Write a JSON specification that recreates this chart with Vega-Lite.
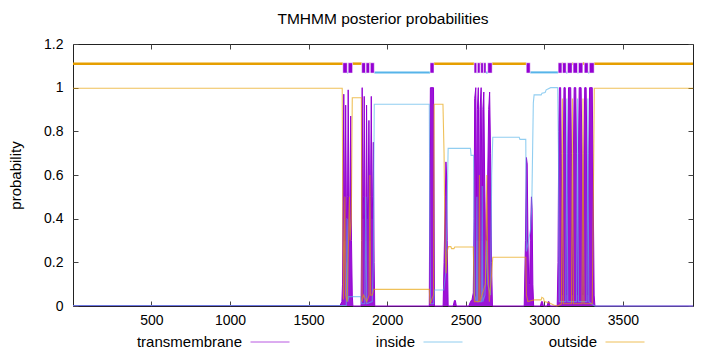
{
"$schema": "https://vega.github.io/schema/vega-lite/v6.json",
"width": 620, "height": 262,
"autosize": {"type": "none"},
"padding": {"left": 73, "top": 44, "right": 27, "bottom": 46},
"background": "white",
"title": {"text": "TMHMM posterior probabilities", "font": "Liberation Sans", "fontSize": 15.5, "fontWeight": "normal", "color": "#000", "offset": 10, "anchor": "middle"},
"config": {
  "view": {"stroke": "#222", "strokeWidth": 1},
  "axis": {"grid": false, "domain": false, "labelFont": "Liberation Sans", "labelFontSize": 14, "labelColor": "#000", "tickColor": "#444", "tickSize": -5, "titleFont": "Liberation Sans", "titleFontSize": 15, "titleFontWeight": "normal", "titleColor": "#000"}
},
"resolve": {"axis": {"x": "independent", "y": "independent"}},
"datasets": {
"tm": [{"x":1,"y":0.002},{"x":1700,"y":0.002},{"x":1712,"y":0.02},{"x":1716,"y":0.1},{"x":1720,"y":0.6},{"x":1724,"y":0.97},{"x":1728,"y":0.5},{"x":1731,"y":0.3},{"x":1736,"y":0.92},{"x":1741,"y":0.4},{"x":1745,"y":0.2},{"x":1748,"y":0.5},{"x":1752,"y":0.99},{"x":1756,"y":0.6},{"x":1760,"y":0.3},{"x":1764,"y":0.5},{"x":1768,"y":0.87},{"x":1773,"y":0.3},{"x":1778,"y":0.05},{"x":1782,"y":0},{"x":1834,"y":0},{"x":1837,"y":0.3},{"x":1841,"y":1},{"x":1846,"y":0.4},{"x":1850,"y":0.5},{"x":1854,"y":0.96},{"x":1859,"y":0.4},{"x":1864,"y":0.3},{"x":1869,"y":0.92},{"x":1874,"y":0.4},{"x":1879,"y":0.5},{"x":1884,"y":0.85},{"x":1890,"y":0.3},{"x":1894,"y":0.5},{"x":1899,"y":0.96},{"x":1904,"y":0.4},{"x":1908,"y":0.5},{"x":1912,"y":0.75},{"x":1917,"y":0.2},{"x":1921,"y":0},{"x":2268,"y":0},{"x":2272,"y":0.7},{"x":2275,"y":1},{"x":2295,"y":1},{"x":2298,"y":0.6},{"x":2301,"y":0},{"x":2356,"y":0},{"x":2362,"y":0.2},{"x":2370,"y":0.5},{"x":2374,"y":0.66},{"x":2378,"y":0.6},{"x":2382,"y":0.3},{"x":2388,"y":0},{"x":2420,"y":0},{"x":2428,"y":0.025},{"x":2434,"y":0.025},{"x":2440,"y":0},{"x":2520,"y":0},{"x":2530,"y":0.02},{"x":2540,"y":0.03},{"x":2548,"y":0.06},{"x":2553,"y":0.4},{"x":2557,"y":0.95},{"x":2564,"y":1},{"x":2568,"y":0.6},{"x":2571,"y":0.3},{"x":2574,"y":0.9},{"x":2580,"y":1},{"x":2584,"y":0.6},{"x":2587,"y":0.3},{"x":2591,"y":0.9},{"x":2598,"y":1},{"x":2602,"y":0.6},{"x":2605,"y":0.3},{"x":2609,"y":0.9},{"x":2615,"y":0.98},{"x":2620,"y":0.6},{"x":2626,"y":0.3},{"x":2633,"y":0.3},{"x":2640,"y":0.6},{"x":2646,"y":0.9},{"x":2652,"y":0.98},{"x":2658,"y":0.7},{"x":2664,"y":0.2},{"x":2670,"y":0},{"x":2872,"y":0},{"x":2880,"y":0.3},{"x":2886,"y":0.68},{"x":2891,"y":0.65},{"x":2896,"y":0.3},{"x":2901,"y":0.1},{"x":2906,"y":0.1},{"x":2911,"y":0.3},{"x":2918,"y":0.5},{"x":2922,"y":0.45},{"x":2927,"y":0.1},{"x":2932,"y":0},{"x":2975,"y":0},{"x":2982,"y":0.02},{"x":2988,"y":0.02},{"x":2994,"y":0},{"x":3018,"y":0},{"x":3025,"y":0.02},{"x":3030,"y":0.02},{"x":3036,"y":0},{"x":3082,"y":0},{"x":3087,"y":0.2},{"x":3092,"y":0.8},{"x":3096,"y":1},{"x":3104,"y":1},{"x":3108,"y":0.7},{"x":3115,"y":0.05},{"x":3121,"y":0.7},{"x":3125,"y":1},{"x":3133,"y":1},{"x":3137,"y":0.7},{"x":3143,"y":0.05},{"x":3149,"y":0.7},{"x":3154,"y":1},{"x":3168,"y":1},{"x":3173,"y":0.7},{"x":3179,"y":0.05},{"x":3185,"y":0.7},{"x":3190,"y":1},{"x":3200,"y":1},{"x":3205,"y":0.7},{"x":3211,"y":0.05},{"x":3217,"y":0.7},{"x":3222,"y":1},{"x":3234,"y":1},{"x":3240,"y":0.7},{"x":3246,"y":0.05},{"x":3252,"y":0.7},{"x":3257,"y":1},{"x":3266,"y":1},{"x":3271,"y":0.7},{"x":3277,"y":0.05},{"x":3283,"y":0.7},{"x":3288,"y":1},{"x":3305,"y":1},{"x":3310,"y":0.6},{"x":3317,"y":0.05},{"x":3322,"y":0},{"x":3946,"y":0}],
"ins": [{"x":1,"y":0.002},{"x":1740,"y":0.002},{"x":1745,"y":0.4},{"x":1750,"y":0.02},{"x":1756,"y":0.043},{"x":1830,"y":0.043},{"x":1838,"y":0.01},{"x":1858,"y":0.01},{"x":1864,"y":0.5},{"x":1870,"y":0.01},{"x":1905,"y":0.02},{"x":1912,"y":0.2},{"x":1918,"y":0.924},{"x":2268,"y":0.924},{"x":2272,"y":0.3},{"x":2276,"y":0.01},{"x":2296,"y":0.01},{"x":2300,"y":0.073},{"x":2360,"y":0.073},{"x":2372,"y":0.15},{"x":2380,"y":0.4},{"x":2388,"y":0.722},{"x":2530,"y":0.722},{"x":2534,"y":0.69},{"x":2550,"y":0.69},{"x":2555,"y":0.05},{"x":2567,"y":0.02},{"x":2571,"y":0.5},{"x":2575,"y":0.02},{"x":2601,"y":0.02},{"x":2605,"y":0.55},{"x":2609,"y":0.02},{"x":2622,"y":0.05},{"x":2633,"y":0.3},{"x":2640,"y":0.1},{"x":2658,"y":0.05},{"x":2665,"y":0.6},{"x":2672,"y":0.773},{"x":2840,"y":0.773},{"x":2845,"y":0.763},{"x":2882,"y":0.763},{"x":2886,"y":0.25},{"x":2900,"y":0.3},{"x":2912,"y":0.35},{"x":2920,"y":0.45},{"x":2930,"y":0.93},{"x":2935,"y":0.967},{"x":2980,"y":0.967},{"x":2985,"y":0.975},{"x":3005,"y":0.978},{"x":3012,"y":0.99},{"x":3040,"y":1},{"x":3085,"y":1},{"x":3090,"y":0.7},{"x":3095,"y":0.02},{"x":3137,"y":0.02},{"x":3143,"y":0.95},{"x":3149,"y":0.02},{"x":3205,"y":0.02},{"x":3211,"y":0.95},{"x":3217,"y":0.02},{"x":3271,"y":0.02},{"x":3277,"y":0.95},{"x":3283,"y":0.02},{"x":3320,"y":0},{"x":3946,"y":0}],
"outs": [{"x":1,"y":0.997},{"x":1714,"y":0.997},{"x":1718,"y":0.4},{"x":1722,"y":0.03},{"x":1731,"y":0.5},{"x":1735,"y":0.05},{"x":1746,"y":0.02},{"x":1760,"y":0.5},{"x":1764,"y":0.3},{"x":1772,"y":0.4},{"x":1778,"y":0.954},{"x":1836,"y":0.954},{"x":1840,"y":0.02},{"x":1850,"y":0.05},{"x":1870,"y":0.02},{"x":1885,"y":0.05},{"x":1890,"y":0.6},{"x":1895,"y":0.05},{"x":1905,"y":0.05},{"x":1915,"y":0.076},{"x":2268,"y":0.076},{"x":2273,"y":0.01},{"x":2295,"y":0.05},{"x":2299,"y":0.924},{"x":2355,"y":0.924},{"x":2362,"y":0.7},{"x":2368,"y":0.3},{"x":2375,"y":0.15},{"x":2382,"y":0.25},{"x":2390,"y":0.272},{"x":2405,"y":0.272},{"x":2410,"y":0.263},{"x":2425,"y":0.263},{"x":2430,"y":0.27},{"x":2548,"y":0.27},{"x":2555,"y":0.02},{"x":2583,"y":0.02},{"x":2587,"y":0.6},{"x":2591,"y":0.02},{"x":2625,"y":0.1},{"x":2634,"y":0.6},{"x":2640,"y":0.2},{"x":2650,"y":0.02},{"x":2665,"y":0.15},{"x":2672,"y":0.223},{"x":2882,"y":0.223},{"x":2886,"y":0.05},{"x":2895,"y":0.02},{"x":2920,"y":0.025},{"x":2935,"y":0.028},{"x":2980,"y":0.028},{"x":2984,"y":0.04},{"x":2995,"y":0.035},{"x":3000,"y":0.02},{"x":3030,"y":0.015},{"x":3060,"y":0.005},{"x":3085,"y":0},{"x":3109,"y":0.01},{"x":3115,"y":0.95},{"x":3121,"y":0.01},{"x":3173,"y":0.01},{"x":3179,"y":0.95},{"x":3185,"y":0.01},{"x":3240,"y":0.01},{"x":3246,"y":0.95},{"x":3252,"y":0.01},{"x":3305,"y":0.01},{"x":3312,"y":0.5},{"x":3318,"y":0.997},{"x":3946,"y":0.997}],
"topo": [{"region":"outside","start":1,"end":1718},{"region":"TM","start":1718,"end":1746},{"region":"inside","start":1746,"end":1752},{"region":"TM","start":1752,"end":1780},{"region":"outside","start":1780,"end":1838},{"region":"TM","start":1838,"end":1862},{"region":"inside","start":1862,"end":1866},{"region":"TM","start":1866,"end":1888},{"region":"outside","start":1888,"end":1893},{"region":"TM","start":1893,"end":1918},{"region":"inside","start":1918,"end":2273},{"region":"TM","start":2273,"end":2298},{"region":"outside","start":2298,"end":2553},{"region":"TM","start":2553,"end":2570},{"region":"inside","start":2570,"end":2574},{"region":"TM","start":2574,"end":2591},{"region":"outside","start":2591,"end":2595},{"region":"TM","start":2595,"end":2612},{"region":"inside","start":2612,"end":2614},{"region":"TM","start":2614,"end":2629},{"region":"inside","start":2629,"end":2640},{"region":"TM","start":2640,"end":2668},{"region":"outside","start":2668,"end":2885},{"region":"TM","start":2885,"end":2910},{"region":"inside","start":2910,"end":3088},{"region":"TM","start":3088,"end":3112},{"region":"outside","start":3112,"end":3116},{"region":"TM","start":3116,"end":3139},{"region":"inside","start":3139,"end":3147},{"region":"TM","start":3147,"end":3177},{"region":"outside","start":3177,"end":3183},{"region":"TM","start":3183,"end":3211},{"region":"inside","start":3211,"end":3217},{"region":"TM","start":3217,"end":3245},{"region":"outside","start":3245,"end":3254},{"region":"TM","start":3254,"end":3279},{"region":"inside","start":3279,"end":3286},{"region":"TM","start":3286,"end":3317},{"region":"outside","start":3317,"end":3946}]
},
"layer": [
  {"data": {"name": "tm"}, "mark": {"type": "area", "color": "#9400d3", "opacity": 0.92, "interpolate": "linear"},
   "encoding": {
     "x": {"field": "x", "type": "quantitative", "scale": {"domain": [1, 3946], "nice": false, "zero": false}, "axis": {"title": null, "values": [500,1000,1500,2000,2500,3000,3500], "format": "d", "labelPadding": 12}},
     "y": {"field": "y", "type": "quantitative", "scale": {"domain": [0, 1.2], "nice": false}, "axis": {"title": "probability", "values": [0,0.2,0.4,0.6,0.8,1,1.2], "format": "~g", "labelPadding": 15, "titlePadding": 20}}}},
  {"data": {"name": "tm"}, "mark": {"type": "line", "strokeWidth": 1},
   "encoding": {"x": {"field": "x", "type": "quantitative", "axis": null}, "y": {"field": "y", "type": "quantitative", "axis": null},
     "color": {"datum": "transmembrane", "type": "nominal", "scale": {"domain": ["transmembrane","inside","outside"], "range": ["#9400d3","#56b4e9","#e69f00"]},
     "legend": {"title": null, "orient": "none", "legendX": 177, "legendY": 278, "direction": "horizontal", "symbolType": "stroke", "symbolSize": 1521, "symbolStrokeWidth": 1, "symbolOpacity": 0.6, "labelAlign": "right", "labelOffset": -48, "labelFont": "Liberation Sans", "labelFontSize": 15, "labelColor": "#000", "columnPadding": 83, "gridAlign": "each"}}}},
  {"data": {"name": "ins"}, "mark": {"type": "line", "strokeWidth": 1.1, "opacity": 0.65},
   "encoding": {"x": {"field": "x", "type": "quantitative", "axis": null}, "y": {"field": "y", "type": "quantitative", "axis": null}, "color": {"datum": "inside", "type": "nominal"}}},
  {"data": {"name": "outs"}, "mark": {"type": "line", "strokeWidth": 1.1, "opacity": 0.65},
   "encoding": {"x": {"field": "x", "type": "quantitative", "axis": null}, "y": {"field": "y", "type": "quantitative", "axis": null}, "color": {"datum": "outside", "type": "nominal"}}},
  {"data": {"name": "topo"}, "transform": [{"filter": "datum.region == 'outside'"}], "mark": {"type": "rule", "color": "#e69f00", "strokeWidth": 2.5},
   "encoding": {"x": {"field": "start", "type": "quantitative", "axis": {"orient": "top", "labels": false, "title": null, "values": [500,1000,1500,2000,2500,3000,3500]}}, "x2": {"field": "end"},
     "y": {"datum": 1.11, "axis": {"orient": "right", "labels": false, "title": null, "values": [0,0.2,0.4,0.6,0.8,1,1.2]}}}},
  {"data": {"name": "topo"}, "transform": [{"filter": "datum.region == 'inside'"}], "mark": {"type": "rule", "color": "#56b4e9", "strokeWidth": 2},
   "encoding": {"x": {"field": "start", "type": "quantitative", "axis": null}, "x2": {"field": "end"}, "y": {"datum": 1.07, "axis": null}}},
  {"data": {"name": "topo"}, "transform": [{"filter": "datum.region == 'TM'"}], "mark": {"type": "rect", "color": "#9400d3", "stroke": "white", "strokeWidth": 0.5},
   "encoding": {"x": {"field": "start", "type": "quantitative", "axis": null}, "x2": {"field": "end"}, "y": {"datum": 1.067, "axis": null}, "y2": {"datum": 1.114}}}
]
}
